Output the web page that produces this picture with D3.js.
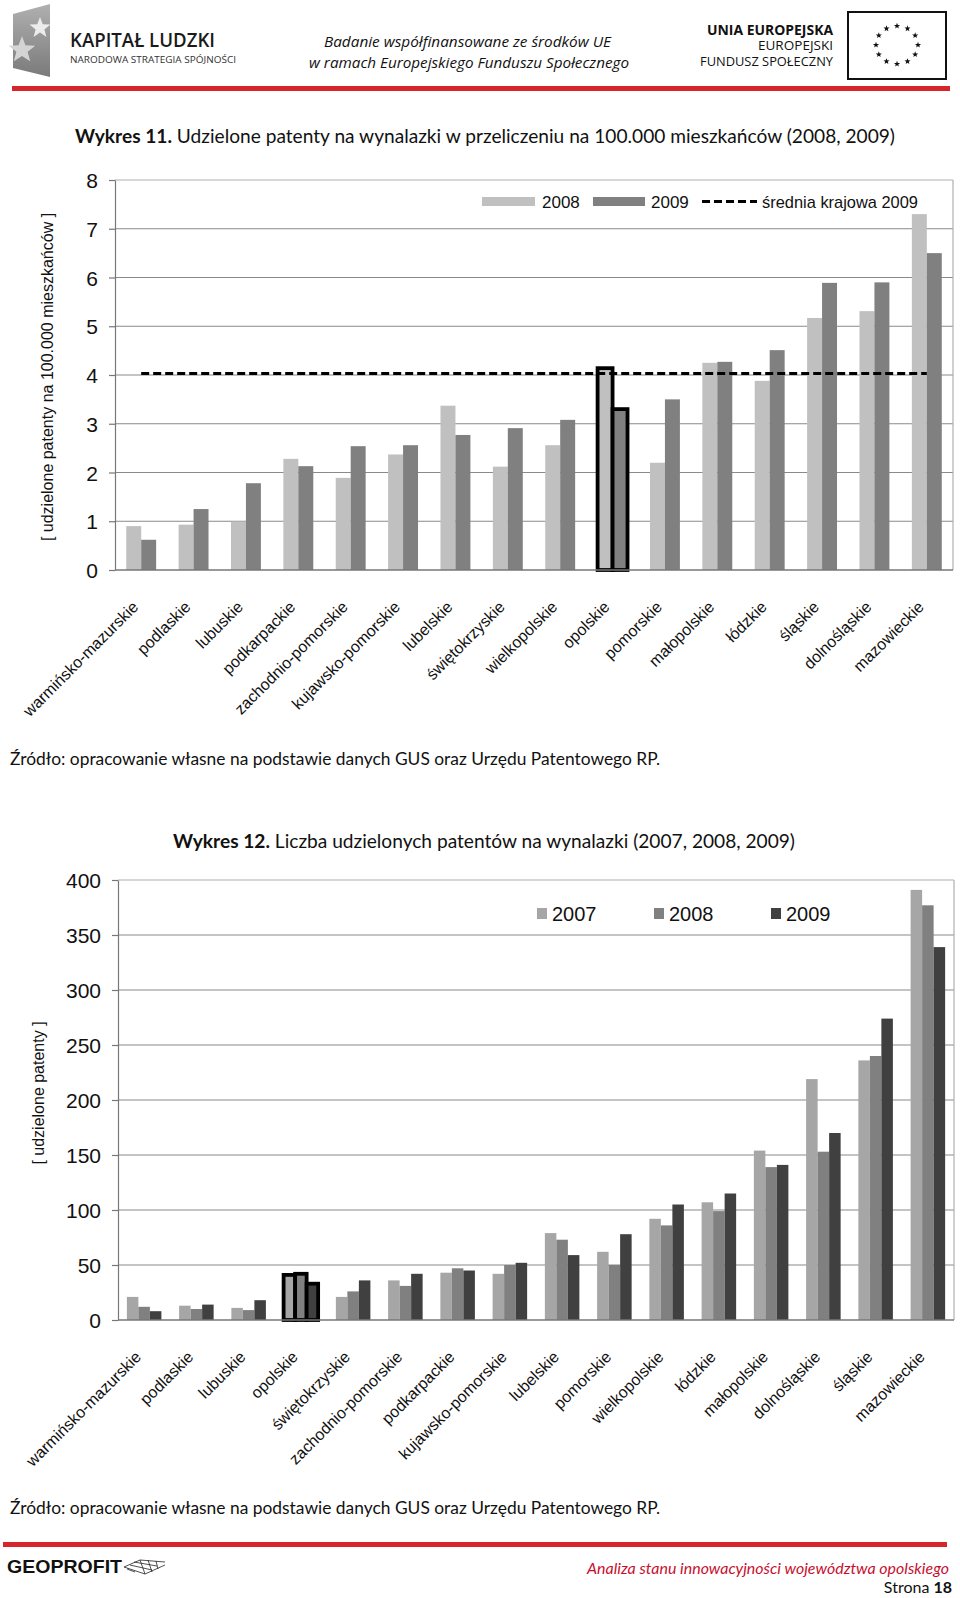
<!DOCTYPE html>
<html><head><meta charset="utf-8">
<script src="https://cdn.jsdelivr.net/npm/d3@7"></script>
<style>
html,body{margin:0;padding:0;background:#fff;}
svg{display:block;}
</style></head>
<body>
<svg id="page" width="960" height="1598"></svg>
<script>
// ---------- DATA ----------
const cats1 = ["warmińsko-mazurskie","podlaskie","lubuskie","podkarpackie","zachodnio-pomorskie","kujawsko-pomorskie","lubelskie","świętokrzyskie","wielkopolskie","opolskie","pomorskie","małopolskie","łódzkie","śląskie","dolnośląskie","mazowieckie"];
const series1 = ["2008","2009"];
const v2008 = [0.90,0.93,0.99,2.28,1.89,2.37,3.37,2.12,2.56,4.14,2.20,4.25,3.88,5.17,5.31,7.30];
const v2009 = [0.62,1.25,1.78,2.13,2.54,2.56,2.77,2.91,3.08,3.30,3.50,4.27,4.51,5.89,5.90,6.50];
const avg2009 = 4.03;
const avgLabel = "średnia krajowa 2009";
const ticks1 = [0,1,2,3,4,5,6,7,8];

const cats2 = ["warmińsko-mazurskie","podlaskie","lubuskie","opolskie","świętokrzyskie","zachodnio-pomorskie","podkarpackie","kujawsko-pomorskie","lubelskie","pomorskie","wielkopolskie","łódzkie","małopolskie","dolnośląskie","śląskie","mazowieckie"];
const series2 = ["2007","2008","2009"];
const p2007 = [21,13,11,41,21,36,43,42,79,62,92,107,154,219,236,391];
const p2008 = [12,10,9,42,26,31,47,50,73,50,86,99,139,153,240,377];
const p2009 = [8,14,18,33,36,42,45,52,59,78,105,115,141,170,274,339];
const ticks2 = [0,50,100,150,200,250,300,350,400];

const highlight = "opolskie";

const title1b = "Wykres 11.";
const title1 = " Udzielone patenty na wynalazki w przeliczeniu na 100.000 mieszkańców (2008, 2009)";
const title2b = "Wykres 12.";
const title2 = " Liczba udzielonych patentów na wynalazki (2007, 2008, 2009)";
const yTitle1 = "[ udzielone patenty  na 100.000 mieszkańców ]";
const yTitle2 = "[ udzielone patenty ]";
const source = "Źródło: opracowanie własne na podstawie danych GUS oraz Urzędu Patentowego RP.";

// ---------- PAGE ----------
const svg = d3.select("#page");
svg.append("rect").attr("width",960).attr("height",1598).attr("fill","#fff");
const AX = "'Liberation Sans', Arial, sans-serif";
const CAL = "Lato, 'Open Sans', sans-serif";
const RED = "#d7262b";

// header: KL logo
const hdr = svg.append("g");
const grad = svg.append("defs").append("linearGradient").attr("id","klg").attr("x1",0).attr("y1",0).attr("x2",0).attr("y2",1);
grad.append("stop").attr("offset","0").attr("stop-color","#b0b0b0");
grad.append("stop").attr("offset","1").attr("stop-color","#7a7a7a");
hdr.append("polygon").attr("points","13,14 50,4 50,77 13,68").attr("fill","url(#klg)");
function starPath(cx,cy,r){let p=[];for(let i=0;i<10;i++){const a=-Math.PI/2+i*Math.PI/5;const rr=i%2?r*0.42:r;p.push([cx+rr*Math.cos(a),cy+rr*Math.sin(a)]);}return "M"+p.map(d=>d.join(",")).join("L")+"Z";}
hdr.append("path").attr("d",starPath(40,28,11)).attr("fill","#ececec");
hdr.append("path").attr("d",starPath(22,50,14)).attr("fill","#d4d4d4");
hdr.append("text").attr("x",70).attr("y",47).attr("font-family","'Open Sans',sans-serif").attr("font-weight",600).attr("font-size",19).attr("fill","#1a1a1a")
  .attr("textLength",145).attr("lengthAdjust","spacingAndGlyphs").text("KAPITAŁ LUDZKI");
hdr.append("text").attr("x",70).attr("y",63).attr("font-family","'Open Sans',sans-serif").attr("font-size",9).attr("fill","#333")
  .attr("textLength",166).attr("lengthAdjust","spacingAndGlyphs").text("NARODOWA STRATEGIA SPÓJNOŚCI");
hdr.append("text").attr("x",324).attr("y",47).attr("font-family","'Open Sans',sans-serif").attr("font-style","italic").attr("font-size",14).attr("fill","#111")
  .attr("textLength",287).attr("lengthAdjust","spacingAndGlyphs").text("Badanie współfinansowane ze środków UE");
hdr.append("text").attr("x",309).attr("y",68).attr("font-family","'Open Sans',sans-serif").attr("font-style","italic").attr("font-size",14).attr("fill","#111")
  .attr("textLength",320).attr("lengthAdjust","spacingAndGlyphs").text("w ramach Europejskiego Funduszu Społecznego");
hdr.append("text").attr("x",833).attr("y",35).attr("text-anchor","end").attr("font-family","'Open Sans',sans-serif").attr("font-weight","bold").attr("font-size",14).attr("fill","#111")
  .attr("textLength",126).attr("lengthAdjust","spacingAndGlyphs").text("UNIA EUROPEJSKA");
hdr.append("text").attr("x",833).attr("y",50).attr("text-anchor","end").attr("font-family","'Open Sans',sans-serif").attr("font-size",13).attr("fill","#111")
  .attr("textLength",75).attr("lengthAdjust","spacingAndGlyphs").text("EUROPEJSKI");
hdr.append("text").attr("x",833).attr("y",66).attr("text-anchor","end").attr("font-family","'Open Sans',sans-serif").attr("font-size",13).attr("fill","#111")
  .attr("textLength",133).attr("lengthAdjust","spacingAndGlyphs").text("FUNDUSZ SPOŁECZNY");
hdr.append("rect").attr("x",848).attr("y",12).attr("width",98).attr("height",67).attr("fill","#fff").attr("stroke","#111").attr("stroke-width",2);
for(let i=0;i<12;i++){const a=i*Math.PI/6;hdr.append("path").attr("d",starPath(897+21*Math.sin(a),45-19*Math.cos(a),3.2)).attr("fill","#111");}
hdr.append("rect").attr("x",12).attr("y",86).attr("width",938).attr("height",5).attr("fill",RED);

// ---------- helper for titles ----------
function title(x,y,len,b,rest,size){
  const t=svg.append("text").attr("x",x).attr("y",y).attr("font-family",CAL).attr("font-size",size).attr("fill","#111")
   .attr("textLength",len).attr("lengthAdjust","spacingAndGlyphs");
  t.append("tspan").attr("font-weight","bold").text(b);
  t.append("tspan").text(rest);
}
title(75,143,820,title1b,title1,19);
title(173,848,622,title2b,title2,19);
svg.append("text").attr("x",10).attr("y",765).attr("font-family",CAL).attr("font-size",17).attr("fill","#111")
  .attr("textLength",650).attr("lengthAdjust","spacingAndGlyphs").text(source);
svg.append("text").attr("x",10).attr("y",1514).attr("font-family",CAL).attr("font-size",17).attr("fill","#111")
  .attr("textLength",650).attr("lengthAdjust","spacingAndGlyphs").text(source);

// ---------- generic grouped chart ----------
function chart(opt){
  const g=svg.append("g");
  const x0=d3.scaleBand().domain(opt.cats).range([opt.left,opt.right]).padding(0);
  const x1=d3.scaleBand().domain(opt.series).range([0,x0.bandwidth()]).paddingInner(0).paddingOuter(opt.pOut);
  const y=d3.scaleLinear().domain(opt.domain).range([opt.bottom,opt.top]);
  g.append("g").selectAll("line").data(opt.ticks.filter(t=>t>0)).join("line")
    .attr("x1",opt.left).attr("x2",opt.right).attr("y1",d=>y(d)).attr("y2",d=>y(d))
    .attr("stroke",d=>d===opt.domain[1]?"#b0b0b0":"#8a8a8a").attr("stroke-width",1.2);
  g.append("line").attr("x1",opt.right).attr("x2",opt.right).attr("y1",opt.top).attr("y2",opt.bottom).attr("stroke","#b0b0b0").attr("stroke-width",1.2);
  const ax=g.append("g").attr("transform",`translate(${opt.left},0)`).call(d3.axisLeft(y).tickValues(opt.ticks).tickSize(6).tickPadding(11).tickSizeOuter(0));
  ax.select(".domain").attr("stroke","#777").attr("stroke-width",1.2);
  ax.selectAll(".tick line").attr("stroke","#777").attr("stroke-width",1.2);
  ax.selectAll(".tick text").attr("font-family",AX).attr("font-size",opt.tickSize).attr("fill","#111").attr("dy","0.36em");
  const data=[];
  opt.cats.forEach((c,i)=>opt.series.forEach((s,j)=>data.push({c,s,v:opt.values[j][i],col:opt.colors[j]})));
  g.append("g").selectAll("rect").data(data).join("rect")
    .attr("x",d=>x0(d.c)+x1(d.s)).attr("width",x1.bandwidth())
    .attr("y",d=>y(d.v)).attr("height",d=>y(0)-y(d.v)).attr("fill",d=>d.col)
    .attr("stroke",d=>d.c===highlight?"#000":"none").attr("stroke-width",d=>d.c===highlight?3.8:0);
  g.append("line").attr("x1",opt.left).attr("x2",opt.right).attr("y1",y(0)).attr("y2",y(0)).attr("stroke","#777").attr("stroke-width",1.4);
  g.append("g").selectAll("text").data(opt.cats).join("text")
    .attr("transform",d=>`translate(${x0(d)+x0.bandwidth()/2-2},${opt.bottom+opt.labOff}) rotate(-45)`)
    .attr("text-anchor","end").attr("font-family",AX).attr("font-size",16).attr("fill","#111").text(d=>d);
  g.append("text").attr("transform",`translate(${opt.ytX},${opt.ytY}) rotate(-90)`).attr("text-anchor","middle")
    .attr("font-family",AX).attr("font-size",16).attr("fill","#111").text(opt.yTitle);
  return {g,x0,x1,y};
}

// ---------- Chart 1 ----------
const c1=chart({cats:cats1,series:series1,values:[v2008,v2009],colors:["#c0c0c0","#808080"],
  left:115,right:953,top:180,bottom:570,domain:[0,8],ticks:ticks1,pOut:0.75,tickSize:21,labOff:38,
  yTitle:yTitle1,ytX:53,ytY:377});
c1.g.append("line").attr("x1",c1.x0(cats1[0])+c1.x0.bandwidth()/2).attr("x2",c1.x0(cats1[cats1.length-1])+c1.x0.bandwidth()/2)
  .attr("y1",c1.y(avg2009)).attr("y2",c1.y(avg2009)).attr("stroke","#000").attr("stroke-width",3).attr("stroke-dasharray","8,4");
const lg1=svg.append("g").attr("font-family",AX).attr("font-size",17).attr("fill","#111");
lg1.append("rect").attr("x",482).attr("y",197).attr("width",53).attr("height",9).attr("fill","#c0c0c0");
lg1.append("text").attr("x",542).attr("y",208).text(series1[0]);
lg1.append("rect").attr("x",593).attr("y",197).attr("width",52).attr("height",9).attr("fill","#808080");
lg1.append("text").attr("x",651).attr("y",208).text(series1[1]);
lg1.append("line").attr("x1",702).attr("x2",757).attr("y1",201.5).attr("y2",201.5).attr("stroke","#000").attr("stroke-width",3).attr("stroke-dasharray","8,4");
lg1.append("text").attr("x",762).attr("y",208).attr("textLength",156).attr("lengthAdjust","spacingAndGlyphs").text(avgLabel);

// ---------- Chart 2 ----------
const c2=chart({cats:cats2,series:series2,values:[p2007,p2008,p2009],colors:["#a6a6a6","#808080","#404040"],
  left:118,right:954,top:880,bottom:1320,domain:[0,400],ticks:ticks2,pOut:0.77,tickSize:21,labOff:38,
  yTitle:yTitle2,ytX:44,ytY:1093});
const lg2=svg.append("g").attr("font-family",AX).attr("font-size",20).attr("fill","#111");
[[537,552],[654,669],[771,786]].forEach((p,i)=>{
  lg2.append("rect").attr("x",p[0]).attr("y",908).attr("width",10).attr("height",11).attr("fill",["#a6a6a6","#808080","#404040"][i]);
  lg2.append("text").attr("x",p[1]).attr("y",921).text(series2[i]);
});

// ---------- footer ----------
svg.append("rect").attr("x",3).attr("y",1542).attr("width",944).attr("height",5).attr("fill",RED);
svg.append("text").attr("x",7).attr("y",1573).attr("font-family",AX).attr("font-weight","bold").attr("font-size",18).attr("fill","#111")
  .attr("textLength",115).attr("lengthAdjust","spacingAndGlyphs").text("GEOPROFIT");
const net=svg.append("g").attr("stroke","#222").attr("stroke-width",0.8).attr("fill","none");
net.append("path").attr("d","M124,1567 L140,1560 L165,1562 M124,1567 L145,1574 L165,1565 M130,1565 L152,1570 M134,1562 L157,1566 M140,1560 L145,1574 M148,1560 L152,1572 M156,1561 L158,1569 M127,1569 L135,1572");
svg.append("text").attr("x",587).attr("y",1574).attr("font-family",CAL).attr("font-style","italic").attr("font-size",15.5).attr("fill","#c8102e")
  .attr("textLength",362).attr("lengthAdjust","spacingAndGlyphs").text("Analiza stanu innowacyjności województwa opolskiego");
const st=svg.append("text").attr("x",952).attr("y",1593).attr("text-anchor","end").attr("font-family",CAL).attr("font-size",16).attr("fill","#111");
st.append("tspan").text("Strona ");
st.append("tspan").attr("font-weight","bold").text("18");
</script>
</body></html>
